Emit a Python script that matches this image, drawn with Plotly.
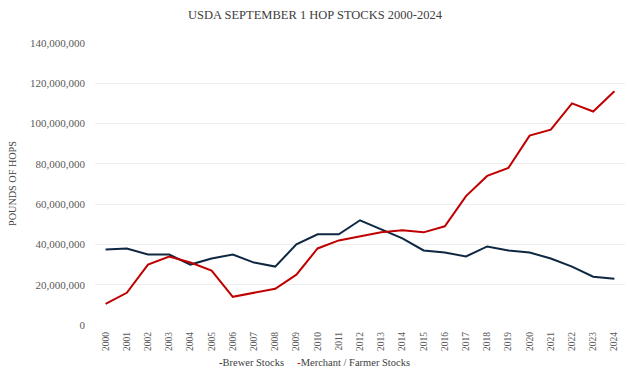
import plotly.graph_objects as go

years = [str(y) for y in range(2000, 2025)]
brewer = [37.5e6, 38e6, 35e6, 35e6, 30e6, 33e6, 35e6, 31e6, 29e6, 40e6, 45e6, 45e6, 52e6,
          47.5e6, 43e6, 37e6, 36e6, 34e6, 39e6, 37e6, 36e6, 33e6, 29e6, 24e6, 23e6]
merchant = [10.5e6, 16e6, 30e6, 34e6, 31e6, 27e6, 14e6, 16e6, 18e6, 25e6, 38e6, 42e6, 44e6,
            46e6, 47e6, 46e6, 49e6, 64e6, 74e6, 78e6, 94e6, 97e6, 110e6, 106e6, 116e6]
y_ticks = list(range(0, 140_000_001, 20_000_000))

font_family = "Liberation Serif"
navy = "#0E2841"
red = "#C00000"

fig = go.Figure()
fig.add_trace(go.Scatter(x=years, y=brewer, mode="lines", name="Brewer Stocks",
                         line=dict(color=navy, width=2), showlegend=False))
fig.add_trace(go.Scatter(x=years, y=merchant, mode="lines", name="Merchant / Farmer Stocks",
                         line=dict(color=red, width=2), showlegend=False))

legend_text = (f'<span style="color:{navy}"><b>-</b></span>Brewer Stocks'
               f'&nbsp;&nbsp;&nbsp;&nbsp;&nbsp;'
               f'<span style="color:{red}"><b>-</b></span>Merchant / Farmer Stocks')

fig.update_layout(
    width=630, height=372,
    margin=dict(l=95, r=5, t=43, b=47),
    paper_bgcolor="white", plot_bgcolor="white",
    font=dict(family=font_family, color="#595959", size=11),
    title=dict(text="USDA SEPTEMBER 1 HOP STOCKS 2000-2024", x=0.5, xanchor="center",
               xref="container", yref="container", y=1 - 15 / 372, yanchor="middle",
               font=dict(size=12.5, color="#404040", family=font_family)),
    showlegend=False,
    xaxis=dict(type="category", range=[-0.5, 24.5], tickangle=-90,
               tickfont=dict(size=9.5, family=font_family, color="#595959"),
               ticklabelstandoff=4,
               showgrid=False, showline=False, ticks="", zeroline=False, automargin=False),
    yaxis=dict(range=[0, 140_000_000], tickvals=y_ticks, tickformat=",d",
               showgrid=True, gridcolor="#EDEDED", gridwidth=1, zeroline=False,
               showline=False, ticks="", ticklen=0, automargin=False, ticklabelstandoff=9,
               tickfont=dict(size=11, family=font_family, color="#595959")),
    annotations=[
        dict(text="POUNDS OF HOPS", xref="paper", yref="paper", x=(12 - 95) / 530, y=0.5,
             xanchor="center", yanchor="middle", textangle=-90, showarrow=False,
             font=dict(size=10.2, color="#404040", family=font_family)),
        dict(text=legend_text, xref="paper", yref="paper", x=(314 - 95) / 530,
             y=-(362 - 325) / 282, xanchor="center", yanchor="middle", showarrow=False,
             font=dict(size=10.5, color="#404040", family=font_family)),
    ],
)

fig.write_html("out.html", config={"displayModeBar": False},
               post_script="document.body.style.margin='0';document.body.style.overflow='hidden';")
